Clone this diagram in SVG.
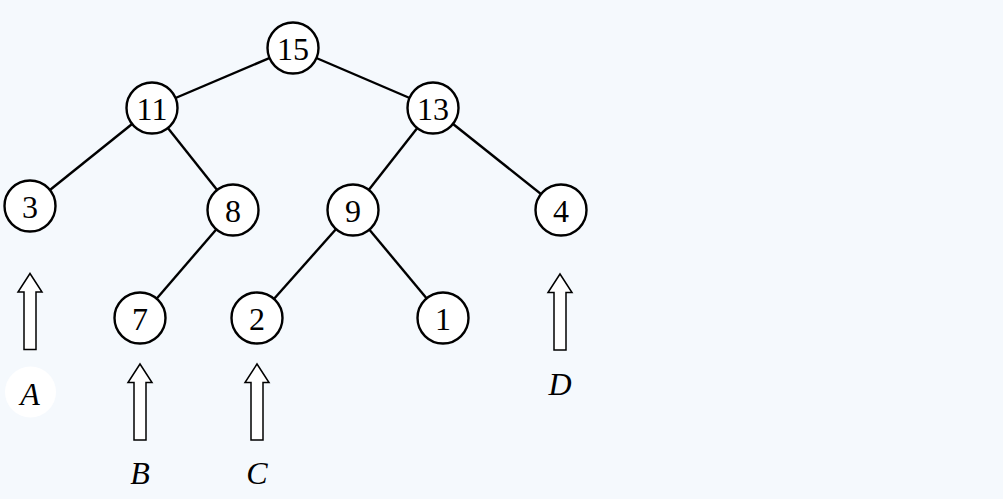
<svg xmlns="http://www.w3.org/2000/svg" width="1003" height="499" viewBox="0 0 1003 499">
<style>
.bg{fill:#f5f9fd}
.edge{stroke:#000;stroke-width:2.4;fill:none}
.node circle{fill:#fff;stroke:#000;stroke-width:2.4}
.node text,.lbl{font-family:"Liberation Serif","Times New Roman",serif;font-size:32px;fill:#000;text-anchor:middle}
.lbl{font-style:italic}
.arrow{fill:#fff;stroke:#000;stroke-width:1.5;stroke-linejoin:miter}
</style>
<defs>
<path id="up" class="arrow" d="M0,0 L12,18.5 L6,18.5 L6,76 L-6,76 L-6,18.5 L-12,18.5 Z"/>
</defs>
<rect class="bg" x="0" y="0" width="1003" height="499"/>
<g id="connectors">
<line class="edge" x1="293" y1="48" x2="152" y2="108"/>
<line class="edge" x1="293" y1="48" x2="433" y2="108"/>
<line class="edge" x1="152" y1="108" x2="30" y2="206"/>
<line class="edge" x1="152" y1="108" x2="233" y2="210"/>
<line class="edge" x1="433" y1="108" x2="353" y2="210"/>
<line class="edge" x1="433" y1="108" x2="561" y2="210"/>
<line class="edge" x1="233" y1="210" x2="140" y2="318"/>
<line class="edge" x1="353" y1="210" x2="257" y2="318"/>
<line class="edge" x1="353" y1="210" x2="443" y2="318"/>
</g>
<g id="n15" class="node"><circle cx="293" cy="48" r="25.5"/><text x="293" y="59.5">15</text></g>
<g id="n11" class="node"><circle cx="152" cy="108" r="25.5"/><text x="152" y="119.5">11</text></g>
<g id="n13" class="node"><circle cx="433" cy="108" r="25.5"/><text x="433" y="119.5">13</text></g>
<g id="n3" class="node"><circle cx="30" cy="206" r="25.5"/><text x="30" y="217.5">3</text></g>
<g id="n8" class="node"><circle cx="233" cy="210" r="25.5"/><text x="233" y="221.5">8</text></g>
<g id="n9" class="node"><circle cx="353" cy="210" r="25.5"/><text x="353" y="221.5">9</text></g>
<g id="n4" class="node"><circle cx="561" cy="210" r="25.5"/><text x="561" y="221.5">4</text></g>
<g id="n7" class="node"><circle cx="140" cy="318" r="25.5"/><text x="140" y="329.5">7</text></g>
<g id="n2" class="node"><circle cx="257" cy="318" r="25.5"/><text x="257" y="329.5">2</text></g>
<g id="n1" class="node"><circle cx="443" cy="318" r="25.5"/><text x="443" y="329.5">1</text></g>
<g id="pointerA">
<use href="#up" x="30" y="273.5"/>
<circle cx="30.5" cy="392" r="25.5" fill="#fff"/>
<text class="lbl" x="30" y="405">A</text>
</g>
<g id="pointerB">
<use href="#up" x="140" y="364"/>
<text class="lbl" x="140" y="484">B</text>
</g>
<g id="pointerC">
<use href="#up" x="257" y="364"/>
<text class="lbl" x="257" y="484">C</text>
</g>
<g id="pointerD">
<use href="#up" x="560" y="274"/>
<text class="lbl" x="560" y="395">D</text>
</g>
</svg>
